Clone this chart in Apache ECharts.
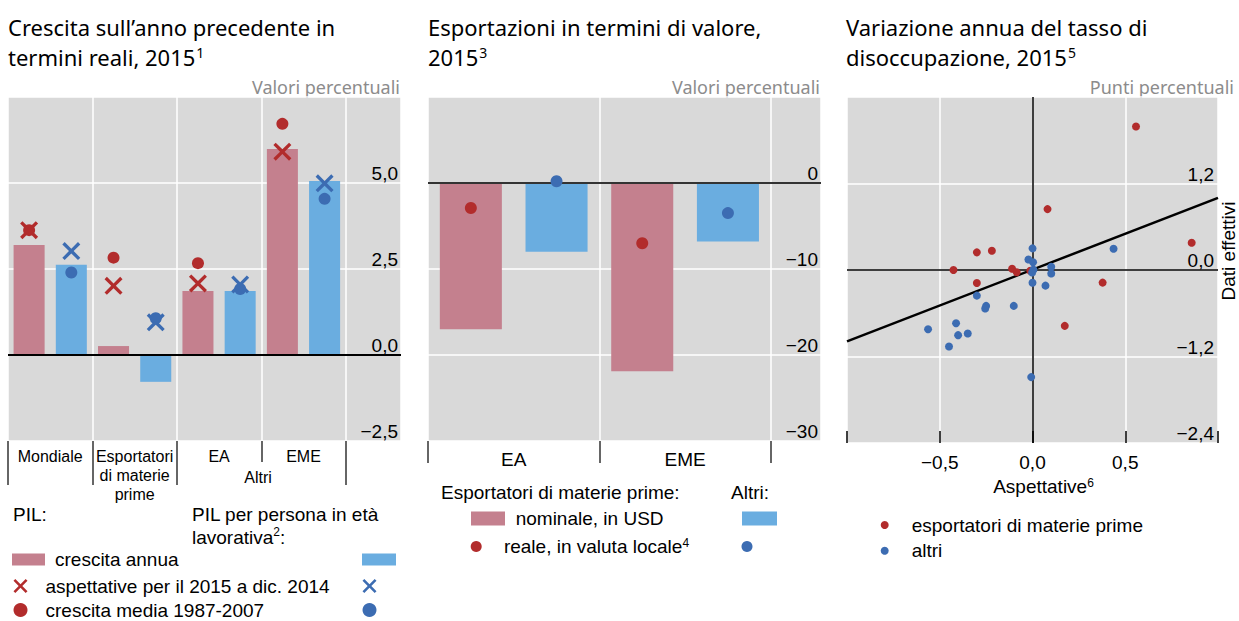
<!DOCTYPE html>
<html><head><meta charset="utf-8">
<script src="https://cdn.jsdelivr.net/npm/echarts@6/dist/echarts.min.js"></script>
<style>html,body{margin:0;padding:0;background:#fff}#c{width:1239px;height:621px}</style>
</head><body><div id="c"></div>
<script>
// ---------- Panel 1: Crescita sull'anno precedente ----------
const p1Categories = ['Mondiale', 'Esportatori\ndi materie\nprime', 'EA', 'EME'];
const p1GroupAltriStart = 3; // boundary between EA and EME (inside group "Altri")
const p1GdpGrowth = [3.2, 0.26, 1.86, 5.99];
const p1WorkerGrowth = [2.62, -0.78, 1.86, 5.06];
const p1GdpExpect = [3.63, 2.01, 2.08, 5.91];
const p1WorkerExpect = [3.02, 0.95, 2.05, 4.99];
const p1GdpAvg = [3.63, 2.83, 2.67, 6.72];
const p1WorkerAvg = [2.40, 1.07, 1.92, 4.54];
// ---------- Panel 2: Esportazioni ----------
const p2Categories = ['EA', 'EME'];
const p2NominalCommodity = [-17.0, -21.9];
const p2NominalOther = [-8.0, -6.8];
const p2RealCommodity = [-2.9, -7.0];
const p2RealOther = [0.2, -3.5];
// ---------- Panel 3: Disoccupazione ----------
const p3CommodityX = [0.558, 0.081, 0.858, -0.300, -0.219, -0.426, -0.110, -0.085, -0.300, 0.378, 0.174, -0.012];
const p3CommodityY = [1.99, 0.845, 0.378, 0.245, 0.268, 0.0, 0.018, -0.032, -0.18, -0.175, -0.775, -0.01];
const p3OtherX = [0.0, -0.022, 0.003, 0.101, 0.101, 0.005, -0.002, 0.0, 0.07, 0.437, -0.300, -0.250, -0.255, -0.101, -0.412, -0.563, -0.401, -0.349, -0.450, -0.007];
const p3OtherY = [0.30, 0.145, 0.107, 0.045, -0.048, 0.005, -0.035, -0.178, -0.217, 0.295, -0.355, -0.498, -0.535, -0.498, -0.738, -0.821, -0.904, -0.881, -1.061, -1.486];
const p3FitX = [-1, 1];
const p3FitY = [-0.99, 1.0];

const SANS = '"Liberation Sans", Arial, sans-serif';
const TF = '"Noto Sans", sans-serif';
const PINK = '#c4808e', BLUE = '#6aade0', RED = '#b22c2c', DBLUE = '#3c6cb2', BG = '#d9d9d9';
const X_PATH = 'path://M0,1.3L1.3,0L5,3.7L8.7,0L10,1.3L6.3,5L10,8.7L8.7,10L5,6.3L1.3,10L0,8.7L3.7,5Z';

const P1_XMAX = 4.655, P2_XMAX = 2.293;

function dec1(v) { return v.toFixed(1).replace('.', ',').replace('-', '\u2212'); }
function int0(v) { return String(Math.round(v)).replace('-', '\u2212'); }

function barSeries(name, xi, yi, values, offset, width, color, extra) {
  return Object.assign({
    type: 'custom', name: name, xAxisIndex: xi, yAxisIndex: yi, z: 2,
    itemStyle: { color: color }, encode: { x: 0, y: 1 }, silent: true,
    data: values.map(function (v, i) { return [i, v]; }),
    renderItem: function (params, api) {
      const c = api.value(0) + offset, v = api.value(1);
      const a = api.coord([c - width / 2, v]);
      const b = api.coord([c + width / 2, 0]);
      return { type: 'rect', shape: { x: a[0], y: Math.min(a[1], b[1]), width: b[0] - a[0], height: Math.abs(b[1] - a[1]) }, style: api.style() };
    }
  }, extra || {});
}
function markSeries(name, xi, yi, values, offset, symbol, size, color) {
  return {
    type: 'scatter', name: name, xAxisIndex: xi, yAxisIndex: yi, z: 6, silent: true,
    symbol: symbol, symbolSize: size, itemStyle: { color: color, opacity: 1 },
    data: values.map(function (v, i) { return [i + offset, v]; })
  };
}
function zeroLine(width, color, data) {
  return { silent: true, symbol: 'none', label: { show: false }, z: 5,
    lineStyle: { color: color, width: width, type: 'solid' }, emphasis: { disabled: true }, data: data };
}
const white = { show: true, lineStyle: { color: '#ffffff', width: 1.5 } };
const noLine = { show: false, onZero: false };
function range(n) { const r = []; for (let i = 0; i < n; i++) r.push(i); return r; }

const legendBase = { orient: 'vertical', selectedMode: false, padding: 0, itemGap: 6,
  textStyle: { fontSize: 19, fontFamily: SANS, color: '#000', lineHeight: 19 } };
function legend(o) {
  const l = Object.assign({}, legendBase, o);
  l.textStyle = Object.assign({}, legendBase.textStyle, o.textStyle || {});
  return l;
}
function txt(text, x, y, size, opts) {
  return { type: 'text', x: x, y: y, silent: true, rotation: (opts && opts.rotation) || 0,
    style: Object.assign({ text: text, fontSize: size, fontFamily: SANS, fill: '#000',
      align: 'left', verticalAlign: 'middle', textAlign: 'left', textVerticalAlign: 'middle' }, (opts && opts.style) || {}) };
}

const boundaries1 = range(p1Categories.length + 1);
const boundaries2 = range(p2Categories.length + 1);
const centers1 = p1Categories.map(function (c, i) { return i + 0.5; });
const centers2 = p2Categories.map(function (c, i) { return i + 0.5; });

const titleRich = {
  t: { fontSize: 22, fontFamily: TF, fontWeight: 'normal', color: '#000', lineHeight: 30 },
  s: { fontSize: 14, fontFamily: TF, fontWeight: 'normal', color: '#000', verticalAlign: 'top', lineHeight: 16, padding: [3, 0, 0, 1] }
};
const supSmall = { fontSize: 12, fontFamily: SANS, color: '#000', fill: '#000', verticalAlign: 'top', lineHeight: 13, padding: [0, 0, 0, 0] };

const option = {
  animation: false,
  backgroundColor: '#ffffff',
  title: [
    { left: 8, top: 12, padding: 0, text: '{t|Crescita sull\u2019anno precedente in}\n{t|termini reali, 2015}{s|1}', textStyle: { fontWeight: 'normal', rich: titleRich } },
    { left: 428, top: 12, padding: 0, text: '{t|Esportazioni in termini di valore,}\n{t|2015}{s|3}', textStyle: { fontWeight: 'normal', rich: titleRich } },
    { left: 846, top: 12, padding: 0, text: '{t|Variazione annua del tasso di}\n{t|disoccupazione, 2015}{s|5}', textStyle: { fontWeight: 'normal', rich: titleRich } }
  ],
  grid: [
    { left: 8, top: 97, width: 393, height: 344, show: true, backgroundColor: BG, borderWidth: 0 },
    { left: 428, top: 97, width: 393, height: 344, show: true, backgroundColor: BG, borderWidth: 0 },
    { left: 847, top: 97, width: 371, height: 346, show: true, backgroundColor: BG, borderWidth: 0 }
  ],
  xAxis: [
    { gridIndex: 0, type: 'value', min: 0, max: P1_XMAX, interval: 1, position: 'bottom',
      axisLine: noLine, axisTick: { show: false }, axisLabel: { show: false }, splitLine: white },
    { gridIndex: 0, type: 'value', min: 0, max: P1_XMAX, position: 'bottom', axisLine: noLine, splitLine: { show: false },
      axisTick: { show: true, customValues: boundaries1.filter(function (b) { return b !== p1GroupAltriStart; }), length: 44, lineStyle: { color: '#333', width: 1.5 } },
      axisLabel: { show: true, customValues: centers1, formatter: function (v) { return p1Categories[Math.floor(v)]; },
        fontSize: 16, lineHeight: 19, margin: 6, color: '#000', fontFamily: SANS } },
    { gridIndex: 0, type: 'value', min: 0, max: P1_XMAX, position: 'bottom', axisLine: noLine, splitLine: { show: false },
      axisLabel: { show: false },
      axisTick: { show: true, customValues: [p1GroupAltriStart], length: 21, lineStyle: { color: '#333', width: 1.5 } } },
    { gridIndex: 1, type: 'value', min: 0, max: P2_XMAX, interval: 1, position: 'bottom',
      axisLine: noLine, axisTick: { show: false }, axisLabel: { show: false }, splitLine: white },
    { gridIndex: 1, type: 'value', min: 0, max: P2_XMAX, position: 'bottom', axisLine: noLine, splitLine: { show: false },
      axisTick: { show: true, customValues: boundaries2, length: 22, lineStyle: { color: '#333', width: 1.5 } },
      axisLabel: { show: true, customValues: centers2, formatter: function (v) { return p2Categories[Math.floor(v)]; },
        fontSize: 19, margin: 9, color: '#000', fontFamily: SANS } },
    { gridIndex: 2, type: 'value', min: -1, max: 1, interval: 0.5, position: 'bottom',
      axisLine: noLine, splitLine: white,
      axisTick: { show: true, inside: true, length: 12, lineStyle: { color: '#000', width: 1.5 } },
      axisLabel: { fontSize: 19, margin: 10, color: '#000', fontFamily: SANS,
        formatter: function (v) { return Math.abs(v) > 0.99 ? '' : dec1(v); } },
      name: '{a|Aspettative}{s|6}', nameLocation: 'middle', nameGap: 28,
      nameTextStyle: { padding: [0, 0, 0, 22], rich: { a: { fontSize: 19, fontFamily: SANS, color: '#000' }, s: supSmall } } }
  ],
  yAxis: [
    { gridIndex: 0, type: 'value', min: -2.5, max: 7.5, interval: 2.5, position: 'right',
      axisLine: noLine, axisTick: { show: false }, splitLine: white,
      axisLabel: { inside: true, verticalAlign: 'bottom', margin: 3, fontSize: 19, color: '#000', fontFamily: SANS,
        formatter: function (v) { return v > 7 ? '' : dec1(v); } } },
    { gridIndex: 1, type: 'value', min: -30, max: 10, interval: 10, position: 'right',
      axisLine: noLine, axisTick: { show: false }, splitLine: white,
      axisLabel: { inside: true, verticalAlign: 'bottom', margin: 3, fontSize: 19, color: '#000', fontFamily: SANS,
        formatter: function (v) { return v > 9 ? '' : int0(v); } } },
    { gridIndex: 2, type: 'value', min: -2.4, max: 2.4, interval: 1.2, position: 'right',
      axisLine: noLine, axisTick: { show: false }, splitLine: white,
      axisLabel: { inside: true, verticalAlign: 'bottom', margin: 4, fontSize: 19, color: '#000', fontFamily: SANS,
        formatter: function (v) { return v > 2.3 ? '' : dec1(v); } } }
  ],
  legend: [
    legend({ left: 12, top: 550, itemWidth: 33, itemHeight: 12, textStyle: { padding: [0, 0, 0, 5] },
      data: [{ name: 'crescita annua', icon: 'rect' }] }),
    legend({ left: 13.5, top: 576.5, itemWidth: 33, itemHeight: 14, itemGap: 5, textStyle: { padding: [0, 0, 0, 3.5] },
      data: [{ name: 'aspettative per il 2015 a dic. 2014', icon: X_PATH }, { name: 'crescita media 1987-2007', icon: 'circle' }] }),
    legend({ left: 362, top: 550, itemWidth: 34, itemHeight: 12, formatter: function () { return ' '; },
      data: [{ name: 'PIL per persona: crescita annua', icon: 'rect' }] }),
    legend({ left: 362.5, top: 576.5, itemWidth: 33, itemHeight: 14, itemGap: 5, formatter: function () { return ' '; },
      data: [{ name: 'PIL per persona: aspettative', icon: X_PATH }, { name: 'PIL per persona: crescita media', icon: 'circle' }] }),
    legend({ left: 471, top: 509, itemWidth: 34, itemHeight: 14, textStyle: { padding: [0, 0, 0, 5.7] },
      data: [{ name: 'nominale, in USD', icon: 'rect' }] }),
    legend({ left: 470.7, top: 537, itemWidth: 34, itemHeight: 11, textStyle: { padding: [0, 0, 0, 5.7],
        rich: { a: { fontSize: 19, fontFamily: SANS, color: '#000' }, s: supSmall } },
      formatter: function (n) { return '{a|' + n + '}{s|4}'; },
      data: [{ name: 'reale, in valuta locale', icon: 'circle' }] }),
    legend({ left: 742, top: 509, itemWidth: 35, itemHeight: 14, formatter: function () { return ' '; },
      data: [{ name: 'Altri: nominale, in USD', icon: 'rect' }] }),
    legend({ left: 741.5, top: 537, itemWidth: 35, itemHeight: 11, formatter: function () { return ' '; },
      data: [{ name: 'Altri: reale, in valuta locale', icon: 'circle' }] }),
    legend({ left: 880.7, top: 515.5, itemWidth: 10, itemHeight: 8, itemGap: 6.7, textStyle: { padding: [0, 0, 0, 17] },
      data: [{ name: 'esportatori di materie prime', icon: 'circle' }, { name: 'altri', icon: 'circle' }] })
  ],
  graphic: [
    txt('Valori percentuali', 400, 87, 18, { style: { fontFamily: TF, fill: '#8c8c8c', align: 'right', textAlign: 'right' } }),
    txt('Valori percentuali', 820, 87, 18, { style: { fontFamily: TF, fill: '#8c8c8c', align: 'right', textAlign: 'right' } }),
    txt('Punti percentuali', 1234, 87, 18, { style: { fontFamily: TF, fill: '#8c8c8c', align: 'right', textAlign: 'right' } }),
    txt('Altri', 258, 477, 16, { style: { align: 'center', textAlign: 'center' } }),
    txt('PIL:', 13, 514, 19),
    txt('{a|PIL per persona in età}\n{a|lavorativa}{s|2}{a|:}', 192, 503, 19, { style: { verticalAlign: 'top', textVerticalAlign: 'top',
      rich: { a: { fontSize: 19, fontFamily: SANS, fill: '#000', color: '#000', lineHeight: 23 }, s: supSmall } } }),
    txt('Esportatori di materie prime:', 441, 492, 19),
    txt('Altri:', 731, 492, 19),
    txt('Dati effettivi', 1228, 251, 19, { rotation: Math.PI / 2, style: { align: 'center', textAlign: 'center' } })
  ],
  series: [
    barSeries('crescita annua', 0, 0, p1GdpGrowth, 0.25, 0.3675, PINK,
      { markLine: zeroLine(2, '#000', [{ yAxis: 0 }]) }),
    barSeries('PIL per persona: crescita annua', 0, 0, p1WorkerGrowth, 0.75, 0.3675, BLUE),
    markSeries('aspettative per il 2015 a dic. 2014', 0, 0, p1GdpExpect, 0.25, X_PATH, 18, RED),
    markSeries('PIL per persona: aspettative', 0, 0, p1WorkerExpect, 0.75, X_PATH, 18, DBLUE),
    markSeries('crescita media 1987-2007', 0, 0, p1GdpAvg, 0.25, 'circle', 12, RED),
    markSeries('PIL per persona: crescita media', 0, 0, p1WorkerAvg, 0.75, 'circle', 12, DBLUE),

    barSeries('nominale, in USD', 3, 1, p2NominalCommodity, 0.25, 0.362, PINK,
      { markLine: zeroLine(2, '#333', [{ yAxis: 0 }]) }),
    barSeries('Altri: nominale, in USD', 3, 1, p2NominalOther, 0.75, 0.362, BLUE),
    markSeries('reale, in valuta locale', 3, 1, p2RealCommodity, 0.25, 'circle', 12, RED),
    markSeries('Altri: reale, in valuta locale', 3, 1, p2RealOther, 0.75, 'circle', 12, DBLUE),

    { type: 'line', name: 'regressione', xAxisIndex: 5, yAxisIndex: 2, z: 4, silent: true, symbol: 'none',
      lineStyle: { color: '#000', width: 2.5 }, itemStyle: { color: '#000' },
      data: p3FitX.map(function (x, i) { return [x, p3FitY[i]]; }),
      markLine: zeroLine(1.5, '#000', [{ yAxis: 0 }, { xAxis: 0 }]) },
    { type: 'scatter', name: 'esportatori di materie prime', xAxisIndex: 5, yAxisIndex: 2, z: 6, silent: true,
      symbolSize: 8, itemStyle: { color: RED, opacity: 1 },
      data: p3CommodityX.map(function (x, i) { return [x, p3CommodityY[i]]; }) },
    { type: 'scatter', name: 'altri', xAxisIndex: 5, yAxisIndex: 2, z: 6, silent: true,
      symbolSize: 8, itemStyle: { color: DBLUE, opacity: 1 },
      data: p3OtherX.map(function (x, i) { return [x, p3OtherY[i]]; }) }
  ]
};
const chart = echarts.init(document.getElementById('c'), null, { renderer: 'svg', width: 1239, height: 621 });
chart.setOption(option);
</script></body></html>
